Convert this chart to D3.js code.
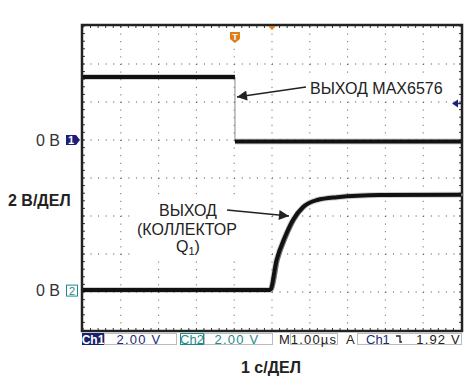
<!DOCTYPE html>
<html>
<head>
<meta charset="utf-8">
<script src="https://cdn.jsdelivr.net/npm/d3@7"></script>
<style>
  body { margin: 0; background: #fff; }
  text { font-family: "Liberation Sans", Arial, sans-serif; }
</style>
</head>
<body>
<svg id="chart" width="473" height="385"></svg>
<script>
// Данные осциллограммы (время в мкс, напряжение в В)
const ch1Time  = [0, 4.02, 4.02, 10];
const ch1Volts = [3.32, 3.32, -0.08, -0.08];
const ch2Time  = [0, 4.95, 5.12, 5.34, 5.55, 5.82, 6.19, 6.72, 7.86, 10];
const ch2Volts = [0, 0, 1.58, 2.79, 3.68, 4.37, 4.74, 4.89, 5.0, 5.02];

const timeTicks = d3.range(0, 11);   // 10 делений по X
const divTicks = d3.range(-4, 5);    // 8 делений по Y
const trigLevel = 1.92;

const status = [
  {text: "2.00 V", x0: 104, x1: 176, cx: 139, color: "#1c2a78"},
  {text: "2.00 V", x0: 204, x1: 272, cx: 237, color: "#1f8a8a"},
  {text: "1.00\u00b5s", x0: 290, x1: 337, cx: 314, color: "#222"},
];

const svg = d3.select("#chart");
const pL = 82, pR = 462, pT = 25, pB = 331;

const x = d3.scaleLinear().domain([0, 10]).range([83, 461]);
const gy = d3.scaleLinear().domain([4, -4]).range([26, 330]);
const y1 = d3.scaleLinear().domain([-10, 6]).range([330, 26]);
const y2 = d3.scaleLinear().domain([-2.1, 13.9]).range([330, 26]);

const g = svg.append("g");

// --- Сетка (пунктир точками) ---
const step = (x(1) - x(0)) / 5;
const stepY = (gy(0) - gy(1)) / 5;
divTicks.slice(1, -1).forEach(d => {
  g.append("line")
    .attr("x1", x(0)).attr("x2", x(10))
    .attr("y1", gy(d)).attr("y2", gy(d))
    .attr("stroke", "#444").attr("stroke-width", 1)
    .attr("stroke-dasharray", `1 ${step - 1}`);
});
timeTicks.slice(1, -1).forEach(t => {
  g.append("line")
    .attr("x1", x(t)).attr("x2", x(t))
    .attr("y1", gy(4)).attr("y2", gy(-4))
    .attr("stroke", "#555").attr("stroke-width", 1)
    .attr("stroke-dasharray", `1 ${stepY - 1}`);
});

// мелкие риски по краям рамки
d3.range(0, 50).forEach(i => {
  const xx = x(0) + i * step;
  g.append("line").attr("x1", xx).attr("x2", xx).attr("y1", pT).attr("y2", pT + 3).attr("stroke", "#333");
  g.append("line").attr("x1", xx).attr("x2", xx).attr("y1", pB - 3).attr("y2", pB).attr("stroke", "#333");
});
d3.range(0, 40).forEach(i => {
  const yy = gy(4) + i * stepY;
  g.append("line").attr("x1", pL).attr("x2", pL + 3).attr("y1", yy).attr("y2", yy).attr("stroke", "#333");
  g.append("line").attr("x1", pR - 3).attr("x2", pR).attr("y1", yy).attr("y2", yy).attr("stroke", "#333");
});

// рамка
g.append("rect")
  .attr("x", pL).attr("y", pT)
  .attr("width", pR - pL).attr("height", pB - pT)
  .attr("fill", "none").attr("stroke", "#222").attr("stroke-width", 2.5);

// --- Подписи с белым фоном ---
g.append("rect").attr("x", 136).attr("y", 199).attr("width", 134).attr("height", 60).attr("fill", "#fff");
g.append("rect").attr("x", 308).attr("y", 79).attr("width", 140).attr("height", 18).attr("fill", "#fff");

// --- Канал 1 ---
const ch1 = ch1Time.map((t, i) => ({t, v: ch1Volts[i]}));
const line1 = d3.line().x(d => x(d.t)).y(d => y1(d.v));
g.append("path").datum(ch1).attr("d", line1)
  .attr("fill", "none").attr("stroke", "#888").attr("stroke-width", 1);
d3.pairs(ch1).filter(p => p[0].v === p[1].v).forEach(p => {
  g.append("path").datum(p).attr("d", line1)
    .attr("fill", "none").attr("stroke", "#666").attr("stroke-width", 6).attr("opacity", 0.3);
  g.append("path").datum(p).attr("d", line1)
    .attr("fill", "none").attr("stroke", "#111").attr("stroke-width", 4);
});

// --- Канал 2 ---
const ch2 = ch2Time.map((t, i) => ({t, v: ch2Volts[i]}));
const line2 = d3.line().x(d => x(d.t)).y(d => y2(d.v)).curve(d3.curveMonotoneX);
g.append("path").datum(ch2.map(d => ({t: d.t + 0.06, v: d.v}))).attr("d", line2)
  .attr("fill", "none").attr("stroke", "#777").attr("stroke-width", 2);
g.append("path").datum(ch2).attr("d", line2)
  .attr("fill", "none").attr("stroke", "#666").attr("stroke-width", 6).attr("opacity", 0.3);
g.append("path").datum(ch2).attr("d", line2)
  .attr("fill", "none").attr("stroke", "#111").attr("stroke-width", 4);

// --- Маркеры ---
// триггер T
const tx = x(4.02);
g.append("path")
  .attr("d", `M${tx - 5},32 h10 v7 l-5,4 l-5,-4 z`)
  .attr("fill", "#e07b1a");
g.append("text").attr("x", tx).attr("y", 40).attr("text-anchor", "middle")
  .attr("font-size", 9).attr("font-weight", "bold").attr("fill", "#fff").text("T");
// позиция по горизонтали
g.append("path").attr("d", `M${x(5) - 4},26 h8 l-4,4 z`).attr("fill", "#e07b1a");
// уровень триггера
const ty = y1(trigLevel);
g.append("path").attr("d", `M${pR - 10},${ty} l6,-4 v8 z`).attr("fill", "#1a2378");
g.append("line").attr("x1", pR - 6).attr("x2", pR - 1).attr("y1", ty).attr("y2", ty).attr("stroke", "#1a2378").attr("stroke-width", 1.5);

// маркеры каналов слева
const m1 = y1(0);
g.append("path").attr("d", `M66,${m1 - 5} h10 l4,5 l-4,5 h-10 z`).attr("fill", "#1a1f78");
g.append("text").attr("x", 71).attr("y", m1 + 4).attr("text-anchor", "middle")
  .attr("font-size", 11).attr("font-weight", "bold").attr("fill", "#fff").text("1");
const m2 = y2(0);
g.append("rect").attr("x", 66.5).attr("y", m2 - 5).attr("width", 11).attr("height", 11)
  .attr("fill", "#fff").attr("stroke", "#1f8a8a").attr("stroke-width", 1);
g.append("text").attr("x", 72).attr("y", m2 + 4.5).attr("text-anchor", "middle")
  .attr("font-size", 11).attr("fill", "#1f8a8a").text("2");

g.append("text").attr("x", 60).attr("y", m1 + 6).attr("text-anchor", "end")
  .attr("font-size", 16).attr("fill", "#333").text("0 B");
g.append("text").attr("x", 60).attr("y", m2 + 6).attr("text-anchor", "end")
  .attr("font-size", 16).attr("fill", "#333").text("0 B");
g.append("text").attr("x", 8).attr("y", 206)
  .attr("font-size", 16).attr("font-weight", "bold").attr("fill", "#222").text("2 В/ДЕЛ");

// --- Аннотации ---
svg.append("defs").append("marker")
  .attr("id", "arr").attr("viewBox", "0 0 10 10").attr("refX", 10).attr("refY", 5)
  .attr("markerWidth", 14).attr("markerHeight", 10).attr("markerUnits", "userSpaceOnUse")
  .attr("orient", "auto")
  .append("path").attr("d", "M0,0 L10,5 L0,10 z").attr("fill", "#222");

g.append("line").attr("x1", 306).attr("y1", 87).attr("x2", 237).attr("y2", 97)
  .attr("stroke", "#222").attr("stroke-width", 1.5).attr("marker-end", "url(#arr)");
g.append("text").attr("x", 310).attr("y", 94)
  .attr("font-size", 16).attr("fill", "#222").text("ВЫХОД MAX6576");

g.append("line").attr("x1", 227).attr("y1", 210).attr("x2", 289).attr("y2", 216)
  .attr("stroke", "#222").attr("stroke-width", 1.5).attr("marker-end", "url(#arr)");
g.append("text").attr("x", 159).attr("y", 216).attr("font-size", 16).attr("fill", "#222").text("ВЫХОД");
g.append("text").attr("x", 137).attr("y", 235).attr("font-size", 16).attr("fill", "#222").text("(КОЛЛЕКТОР");
const q = g.append("text").attr("x", 176).attr("y", 252).attr("font-size", 16).attr("fill", "#222");
q.append("tspan").text("Q");
q.append("tspan").attr("font-size", 11).attr("dy", 3).text("1");
q.append("tspan").attr("dy", -3).text(")");

// --- Строка состояния ---
const sb = svg.append("g").attr("font-size", 13);
const sy = 333, sh = 12;
sb.append("rect").attr("x", 82).attr("y", sy).attr("width", 22).attr("height", sh).attr("fill", "#1a1f6e");
sb.append("text").attr("x", 93).attr("y", sy + 11).attr("text-anchor", "middle").attr("font-size", 12)
  .attr("fill", "#fff").attr("font-weight", "bold").text("Ch1");
sb.append("rect").attr("x", 180.5).attr("y", sy + 0.5).attr("width", 23).attr("height", sh - 1)
  .attr("fill", "none").attr("stroke", "#1f8a8a");
sb.append("text").attr("x", 192).attr("y", sy + 11).attr("text-anchor", "middle")
  .attr("fill", "#1f8a8a").text("Ch2");
status.forEach(s => {
  sb.append("rect").attr("x", s.x0 + 0.5).attr("y", sy + 0.5).attr("width", s.x1 - s.x0).attr("height", sh - 1)
    .attr("fill", "none").attr("stroke", "#bbb");
  sb.append("text").attr("x", s.cx).attr("y", sy + 11).attr("text-anchor", "middle")
    .attr("fill", s.color).attr("letter-spacing", 1.2).text(s.text);
});
sb.append("text").attr("x", 279).attr("y", sy + 11).attr("fill", "#222").text("M");
sb.append("text").attr("x", 346).attr("y", sy + 11).attr("fill", "#222").text("A");
sb.append("rect").attr("x", 357.5).attr("y", sy + 0.5).attr("width", 104).attr("height", sh - 1)
  .attr("fill", "none").attr("stroke", "#bbb");
sb.append("text").attr("x", 366).attr("y", sy + 11).attr("fill", "#1c2a78").text("Ch1");
sb.append("path").attr("d", `M396,${sy + 3} h4 v6 h2`).attr("fill", "none").attr("stroke", "#222").attr("stroke-width", 1.3);
sb.append("text").attr("x", 461).attr("y", sy + 11).attr("text-anchor", "end")
  .attr("fill", "#222").attr("letter-spacing", 1.2).text(trigLevel.toFixed(2) + " V");

// подпись оси времени
svg.append("text").attr("x", 271).attr("y", 373).attr("text-anchor", "middle")
  .attr("font-size", 16).attr("font-weight", "bold").attr("fill", "#222").text("1 с/ДЕЛ");
</script>
</body>
</html>
